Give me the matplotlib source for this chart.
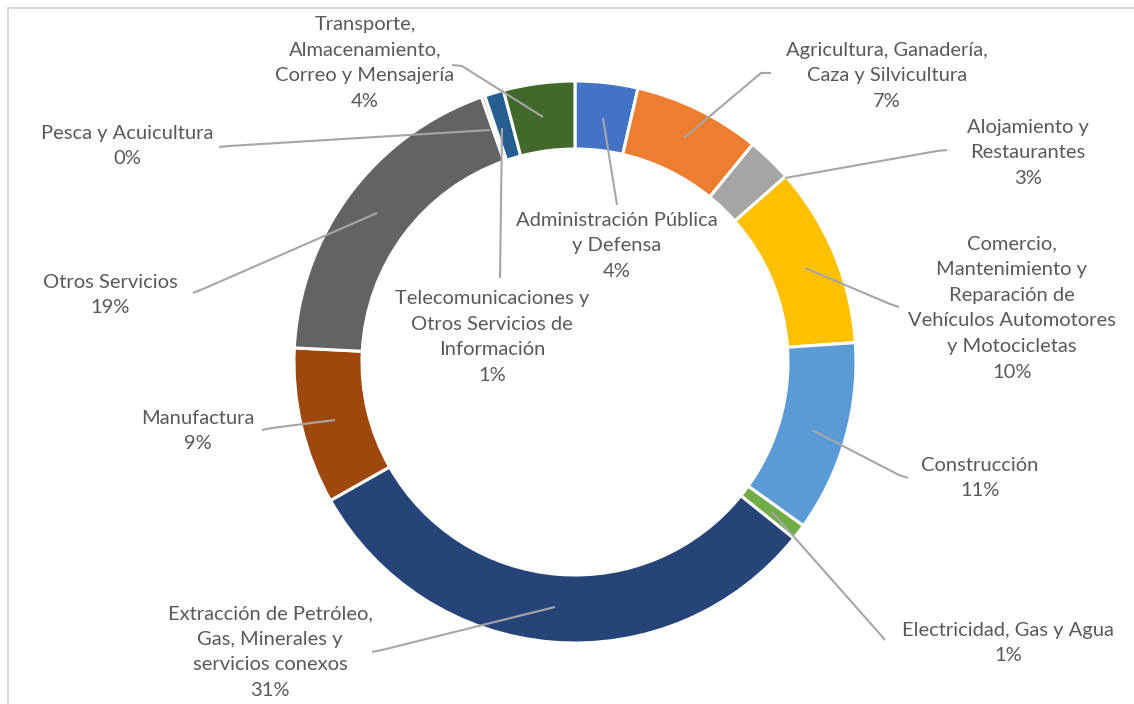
import matplotlib
matplotlib.use("Agg")
import matplotlib.pyplot as plt
from matplotlib.patches import Rectangle

categories = [
    "Administración Pública\ny Defensa",
    "Agricultura, Ganadería,\nCaza y Silvicultura",
    "Alojamiento y\nRestaurantes",
    "Comercio,\nMantenimiento y\nReparación de\nVehículos Automotores\ny Motocicletas",
    "Construcción",
    "Electricidad, Gas y Agua",
    "Extracción de Petróleo,\nGas, Minerales y\nservicios conexos",
    "Manufactura",
    "Otros Servicios",
    "Pesca y Acuicultura",
    "Telecomunicaciones y\nOtros Servicios de\nInformación",
    "Transporte,\nAlmacenamiento,\nCorreo y Mensajería",
]
values = [3.6, 7.3, 2.6, 10.4, 11.0, 0.9, 31.0, 9.0, 18.8, 0.2, 1.1, 4.1]
colors = ["#4472C4", "#ED7D31", "#A5A5A5", "#FFC000", "#5B9BD5", "#70AD47",
          "#264478", "#9E480E", "#636363", "#997300", "#255E91", "#43682B"]

W, H = 1134, 704
# label text centers (pixel coords, y from top) and leader-line points
label_pos = [(617, 246), (887, 76), (1028, 153), (1012, 308), (980, 478), (1008, 643),
             (270, 652), (198, 431), (110, 295), (127, 146), (492, 337), (365, 63)]
leaders = [
    [(617, 205), (603, 118)],
    [(771, 73), (761, 73), (684, 138)],
    [(947, 150), (937, 151), (785, 178)],
    [(899, 307), (890, 304), (805, 268)],
    [(908, 478), (899, 475), (812, 430)],
    [(885, 640), (879, 633), (772, 512)],
    [(372, 652), (382, 650), (555, 607)],
    [(262, 430), (272, 428), (335, 420)],
    [(193, 293), (203, 289), (377, 213)],
    [(219, 147), (229, 146), (490, 130)],
    [(500, 278), (502, 128)],
    [(452, 65), (462, 66), (543, 117)],
]

fig = plt.figure(figsize=(W / 100, H / 100), dpi=100)
ax = fig.add_axes([0, 0, 1, 1])
cx, cy, R = 575, H - 362, 281
ax.pie(values, colors=colors, startangle=90, counterclock=False, radius=R,
       center=(cx, cy), wedgeprops=dict(width=68, edgecolor="white", linewidth=2.2))
ax.set_xlim(0, W)
ax.set_ylim(0, H)
ax.set_aspect("equal")
ax.set_axis_off()

# chart border
ax.add_patch(Rectangle((7.5, -10), W + 20, H - 7.5 + 10, fill=False,
                       edgecolor="#D9D9D9", linewidth=1.5, clip_on=False))

for pts in leaders:
    xs = [p[0] for p in pts]
    ys = [H - p[1] for p in pts]
    ax.plot(xs, ys, color="#A6A6A6", linewidth=1.5, solid_capstyle="butt", zorder=3)

for name, v, (x, y) in zip(categories, values, label_pos):
    ax.text(x, H - y, f"{name}\n{v:.0f}%", ha="center", va="center",
            fontsize=14.5, family="Lato", color="#595959", linespacing=1.62, zorder=4)

fig.savefig("out.png", dpi=100)
